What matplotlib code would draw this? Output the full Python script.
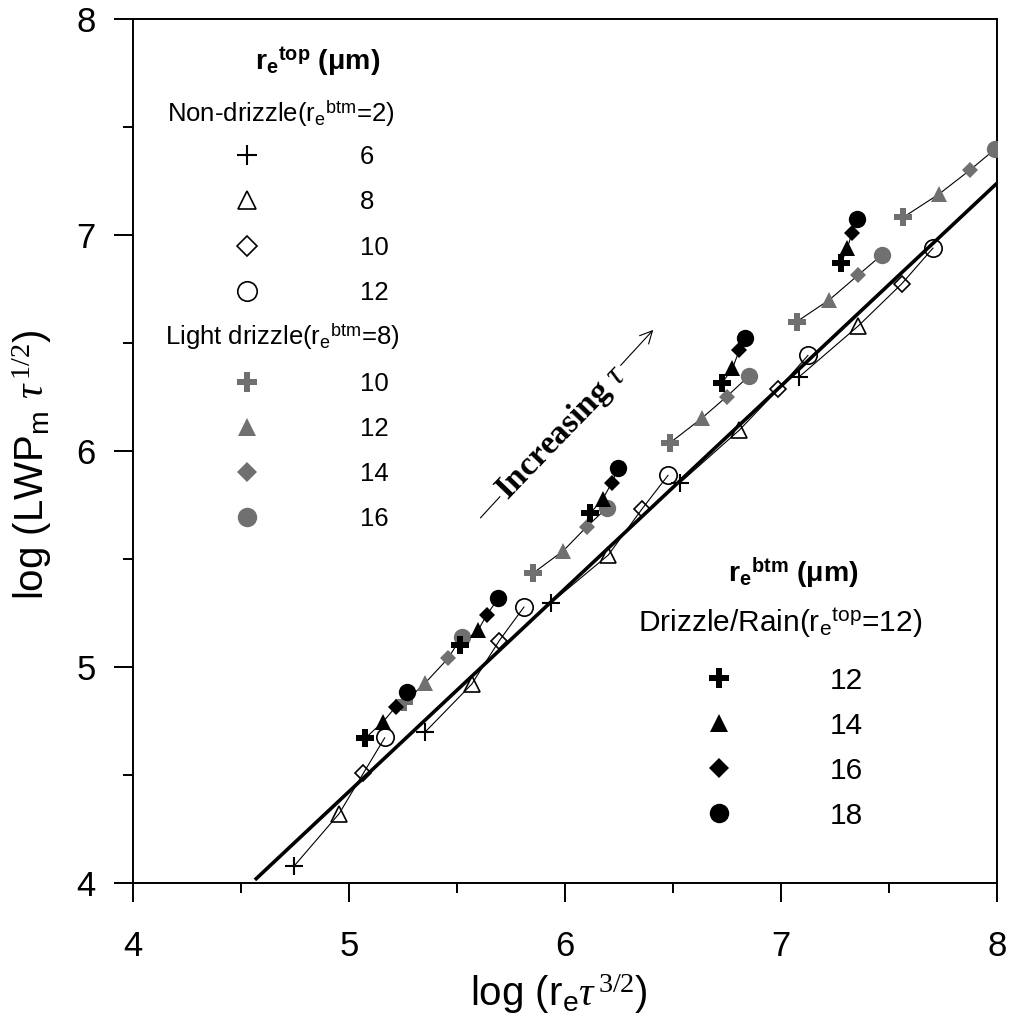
import matplotlib
matplotlib.use('Agg')
import matplotlib.pyplot as plt

plt.rcParams['font.family'] = ['Liberation Sans', 'DejaVu Sans']
plt.rcParams['mathtext.fontset'] = 'custom'
plt.rcParams['mathtext.rm'] = 'Liberation Sans'
plt.rcParams['mathtext.it'] = 'Liberation Serif:italic'
plt.rcParams['mathtext.bf'] = 'Liberation Sans:bold'
plt.rcParams['mathtext.sf'] = 'Liberation Serif'

GRAY = '#707070'

# ---------------- data ----------------
# Non-drizzle (re_btm = 2), one list per re_top, 5 tau values each
nd_labels = ['6', '8', '10', '12']
nd_x = [[4.745, 5.350, 5.934, 6.531, 7.083],
        [4.953, 5.567, 6.199, 6.806, 7.356],
        [5.065, 5.694, 6.354, 6.986, 7.557],
        [5.165, 5.810, 6.477, 7.125, 7.704]]
nd_y = [[4.078, 4.697, 5.297, 5.853, 6.344],
        [4.320, 4.920, 5.518, 6.097, 6.579],
        [4.507, 5.121, 5.730, 6.286, 6.774],
        [4.673, 5.279, 5.889, 6.445, 6.942]]

# Light drizzle (re_btm = 8), re_top = 10, 12, 14, 16
ld_labels = ['10', '12', '14', '16']
ld_x = [[5.255, 5.852, 6.485, 7.071, 7.565],
        [5.350, 5.991, 6.631, 7.222, 7.731],
        [5.458, 6.099, 6.747, 7.356, 7.874],
        [5.520, 6.191, 6.850, 7.465, 7.989]]
ld_y = [[4.835, 5.435, 6.038, 6.599, 7.083],
        [4.924, 5.538, 6.151, 6.700, 7.191],
        [5.040, 5.649, 6.252, 6.815, 7.302],
        [5.140, 5.735, 6.347, 6.908, 7.398]]

# Drizzle/Rain (re_top = 12), re_btm = 12, 14, 16, 18
dr_labels = ['12', '14', '16', '18']
dr_x = [[5.073, 5.512, 6.114, 6.725, 7.276],
        [5.157, 5.597, 6.173, 6.774, 7.306],
        [5.215, 5.636, 6.215, 6.806, 7.326],
        [5.269, 5.690, 6.245, 6.830, 7.352]]
dr_y = [[4.669, 5.101, 5.711, 6.314, 6.870],
        [4.746, 5.171, 5.776, 6.383, 6.939],
        [4.815, 5.240, 5.853, 6.468, 7.009],
        [4.885, 5.318, 5.920, 6.522, 7.075]]

# reference (thick) line
fit_x = [4.563, 8.0]
fit_y = [4.013, 7.242]

x_ticks = [4, 5, 6, 7, 8]
y_ticks = [4, 5, 6, 7, 8]

# ---------------- figure ----------------
fig = plt.figure(figsize=(10.11, 10.16), dpi=100)
ax = fig.add_axes([0.13185, 0.13120, 0.85460, 0.84980])
ax.set_xlim(4, 8)
ax.set_ylim(4, 8)

markers = ['+', '^', 'D', 'o']
fmarkers = ['P', '^', 'D', 'o']
msz = {'+': 13, '^': 12, 'D': 8.5, 'o': 12.5, 'P': 13}

def connect(xs, ys):
    n = len(xs[0])
    for j in range(n):
        ax.plot([s[j] for s in xs], [s[j] for s in ys], color='black',
                lw=0.8, zorder=2, solid_capstyle='butt')

connect(nd_x, nd_y)
connect(ld_x, ld_y)
connect(dr_x, dr_y)

ax.plot(fit_x, fit_y, color='black', lw=2.6, zorder=3, solid_capstyle='butt')

for i, m in enumerate(markers):
    ax.plot(nd_x[i], nd_y[i], linestyle='none', marker=m, ms=msz[m],
            mfc='none', mec='black', mew=1.5 if m == '+' else 1.2, zorder=4)
for i, m in enumerate(fmarkers):
    ax.plot(ld_x[i], ld_y[i], linestyle='none', marker=m, ms=msz[m],
            mfc=GRAY, mec=GRAY, mew=0, zorder=5)
for i, m in enumerate(fmarkers):
    ax.plot(dr_x[i], dr_y[i], linestyle='none', marker=m, ms=msz[m],
            mfc='black', mec='black', mew=0, zorder=6)

# ---------------- axes styling ----------------
ax.set_xticks(x_ticks)
ax.set_yticks(y_ticks)
ax.set_xticks([4.5, 5.5, 6.5, 7.5], minor=True)
ax.set_yticks([4.5, 5.5, 6.5, 7.5], minor=True)
ax.set_xticklabels([str(t) for t in x_ticks])
ax.set_yticklabels([str(t) for t in y_ticks])
ax.tick_params(which='both', direction='out', top=False, right=False, width=1.4)
ax.tick_params(which='major', length=14, labelsize=25)
ax.tick_params(which='minor', length=7)
ax.tick_params(axis='x', which='major', pad=20)
ax.tick_params(axis='y', which='major', pad=13)
for sp in ax.spines.values():
    sp.set_linewidth(1.4)

ax.set_xlabel(r'log (r$_\mathrm{e}$$\tau^{\,\mathsf{3/2}}$)', fontsize=29)
ax.set_ylabel(r'log (LWP$_\mathrm{m}$ $\tau^{\,\mathsf{1/2}}$)', fontsize=29)
ax.xaxis.set_label_coords(0.4927, -0.1045)
ax.yaxis.set_label_coords(-0.092, 0.484)

# ---------------- manual legends ----------------
def fx(px):
    return (px - 133.3) / 864.0

def fy(py):
    return (882.7 - py) / 863.4

LFS1 = 18.5
LFS2 = 21.5
TFS = 20.5

ax.text(fx(255), fy(70), r'r$_\mathbf{e}$$^\mathbf{top}$ ($\mathbf{\mu}$m)',
        transform=ax.transAxes, fontsize=TFS, fontweight='bold', va='baseline', ha='left')
ax.text(fx(167), fy(121.5), r'Non-drizzle(r$_\mathrm{e}$$^\mathrm{btm}$=2)',
        transform=ax.transAxes, fontsize=LFS1, va='baseline', ha='left')
rows1 = [155, 200, 246, 291]
for i, m in enumerate(markers):
    ax.plot([fx(247.3)], [fy(rows1[i])], transform=ax.transAxes, clip_on=False,
            linestyle='none', marker=m, ms=msz[m] + 1.5, mfc='none', mec='black',
            mew=1.5 if m == '+' else 1.2)
    ax.text(fx(360), fy(rows1[i] + 9), nd_labels[i], transform=ax.transAxes,
            fontsize=LFS1, va='baseline', ha='left')
ax.text(fx(165), fy(345), r'Light drizzle(r$_\mathrm{e}$$^\mathrm{btm}$=8)',
        transform=ax.transAxes, fontsize=LFS1, va='baseline', ha='left')
rows2 = [381.5, 426.5, 471.5, 516.5]
for i, m in enumerate(fmarkers):
    ax.plot([fx(247.3)], [fy(rows2[i])], transform=ax.transAxes, clip_on=False,
            linestyle='none', marker=m, ms=msz[m] + 1.5, mfc=GRAY, mec=GRAY, mew=0)
    ax.text(fx(360), fy(rows2[i] + 9), ld_labels[i], transform=ax.transAxes,
            fontsize=LFS1, va='baseline', ha='left')

ax.text(fx(728), fy(581.5), r'r$_\mathbf{e}$$^\mathbf{btm}$ ($\mathbf{\mu}$m)',
        transform=ax.transAxes, fontsize=TFS, fontweight='bold', va='baseline', ha='left')
ax.text(fx(638), fy(631.5), r'Drizzle/Rain(r$_\mathrm{e}$$^\mathrm{top}$=12)',
        transform=ax.transAxes, fontsize=LFS2, va='baseline', ha='left')
rows3 = [678.3, 723.3, 768.3, 813.3]
for i, m in enumerate(fmarkers):
    ax.plot([fx(719.3)], [fy(rows3[i])], transform=ax.transAxes, clip_on=False,
            linestyle='none', marker=m, ms=msz[m] + 1.5, mfc='black', mec='black', mew=0)
    ax.text(fx(830), fy(rows3[i] + 10.5), dr_labels[i], transform=ax.transAxes,
            fontsize=LFS2, va='baseline', ha='left')

# ---------------- "Increasing tau" annotation ----------------
ax.annotate('', xy=(6.407, 6.561), xytext=(5.607, 5.690),
            arrowprops=dict(arrowstyle='->', lw=0.8, color='black', mutation_scale=22,
                            shrinkA=0, shrinkB=0))
ax.text(5.985, 6.085, r'Increasing $\tau$', rotation=46, rotation_mode='anchor',
        ha='center', va='center', fontsize=24, fontweight='bold',
        family=['Liberation Serif', 'DejaVu Serif'],
        bbox=dict(facecolor='white', edgecolor='none', pad=1.5))

fig.savefig('out.png', dpi=100)
